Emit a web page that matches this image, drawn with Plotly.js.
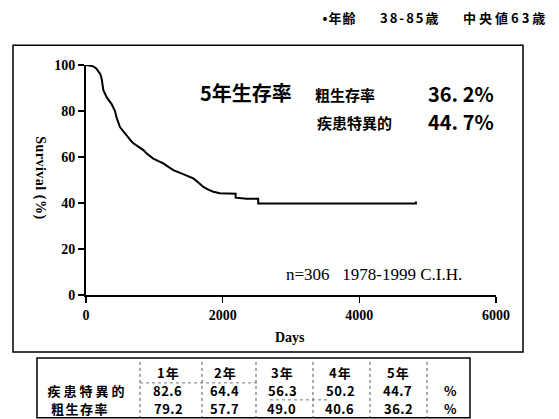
<!DOCTYPE html>
<html><head><meta charset="utf-8">
<script src="https://cdn.plot.ly/plotly-3.0.1.min.js"></script>
<style>body{margin:0;background:#fff}#c{width:559px;height:419px}</style>
</head><body><div id="c"></div>
<script>
// Kaplan-Meier curve (disease-specific survival)
const days = [0,60,107,150,180,210,229,254,302,375,424,449,497,550,595,650,693,740,790,840,888,940,985,1060,1131,1200,1278,1350,1424,1500,1570,1640,1717,1790,1863,1960,2190,2190,2350,2520,2520,3000,3500,4000,4500,4828,4828];
const survival = [100,99.8,99.4,98.5,97.4,96,94,89,86,83,80,77,73,71,69,67.3,66,65,64.2,63,61.5,60.3,59.3,58.2,57.2,55.8,54.3,53.4,52.5,51.6,50.7,49,47,45.8,44.9,44.2,44.0,42.3,41.8,41.8,39.8,39.8,39.8,39.8,39.8,39.8,40.6];
const xTicks = [0,2000,4000,6000];
const yTicks = [0,20,40,60,80,100];
// table
const colHeads = ['1年','2年','3年','4年','5年'];
const rowLabels = ['疾患特異的','粗生存率'];
const diseaseSpecific = ['82.6','64.4','56.3','50.2','44.7'];
const crude = ['79.2','57.7','49.0','40.6','36.2'];
const unitLabel = '%';
// texts
const headerTexts = ['•年齢','38-85歳','中央値63歳'];
const fiveYearTitle = '5年生存率';
const crudeLabel = '粗生存率', crudeValue = '36. 2%';
const dsLabel = '疾患特異的', dsValue = '44. 7%';
const cohortText = 'n=306   1978-1999 C.I.H.';

const L=86, R=496, T=64.7, B=295;
const px = x => (x-L)/(R-L);
const py = y => (B-y)/(B-T);
const serif = 'Liberation Serif, Times New Roman, serif';
const jp = 'Noto Sans CJK JP, sans-serif';

const ann = [];
let css = '';
function A(text,x,y,size,opts,spacing){
  if(spacing) css += '.annotation[data-index="'+ann.length+'"] text{letter-spacing:'+spacing+'px}\n';
  ann.push(Object.assign({text:text,x:px(x),y:py(y),xref:'paper',yref:'paper',showarrow:false,borderpad:0,font:{family:jp,size:size,color:'#000',weight:700},xanchor:'center',yanchor:'middle'},opts||{}));
}
A(headerTexts[0],339,17,13,null,1);
A(headerTexts[1],410,17,13,null,2);
A(headerTexts[2],505,17,13,null,3);
A(fiveYearTitle,246,92,20,{font:{family:jp,size:20,color:'#000',weight:700}});
A(crudeLabel,345,94,15);
A(crudeValue,495,93,20,{xanchor:'right',font:{family:jp,size:20,color:'#000',weight:700}});
A(dsLabel,354,122,15);
A(dsValue,495,121,20,{xanchor:'right',font:{family:jp,size:20,color:'#000',weight:700}});
A(cohortText,374,274,17,{font:{family:serif,size:17,color:'#000'}});
A('Survival (%)',40,178,14,{textangle:90,font:{family:serif,size:14,color:'#000',weight:700}},0.5);
A('Days',290,338,14,{font:{family:serif,size:14,color:'#000',weight:700}});
// table text
const colX=[168,225,282,340,398,450];
const rowY=[373,391,409];
colHeads.forEach((h,i)=>A(h,colX[i],rowY[0],13,null,1));
A(rowLabels[0],87,rowY[1],13,null,3);
A(rowLabels[1],80,rowY[2],13,null,1.5);
diseaseSpecific.forEach((v,i)=>A(v,colX[i],rowY[1],13,null,0.5));
crude.forEach((v,i)=>A(v,colX[i],rowY[2],13,null,0.5));
A(unitLabel,colX[5],rowY[1],13);
A(unitLabel,colX[5],rowY[2],13);
const st=document.createElement('style'); st.textContent=css; document.head.appendChild(st);

const shapes=[];
function rect(x0,y0,x1,y1,w){shapes.push({type:'rect',xref:'paper',yref:'paper',x0:px(x0),x1:px(x1),y0:py(y0),y1:py(y1),line:{color:'#000',width:w}});}
function line(x0,y0,x1,y1,w,dash,col){shapes.push({type:'line',xref:'paper',yref:'paper',x0:px(x0),x1:px(x1),y0:py(y0),y1:py(y1),line:{color:col||'#000',width:w,dash:dash||'solid'}});}
rect(13,45,523,352,1.5);
rect(37,358,470,418,1.5);
[140,202,256,313,370,427].forEach(x=>line(x,362,x,418,1,'dot','#555'));
line(140,383,260,383,1,'dot','#777');
line(270,400,330,400,1,'dot','#777');

Plotly.newPlot('c',[{x:days,y:survival,type:'scatter',mode:'lines',line:{color:'#000',width:2},hoverinfo:'skip'}],{
  width:559,height:419,margin:{l:L,r:559-R,t:T,b:419-B},
  paper_bgcolor:'#fff',plot_bgcolor:'#fff',showlegend:false,
  xaxis:{range:[0,6000],tickvals:xTicks,ticktext:xTicks.map(String),showgrid:false,zeroline:false,showline:true,linecolor:'#000',linewidth:2,ticks:'outside',ticklen:6,tickwidth:1.5,tickcolor:'#000',tickfont:{family:serif,size:14,color:'#000',weight:700}},
  yaxis:{range:[0,100],tickvals:yTicks,ticktext:yTicks.map(String),showgrid:false,zeroline:false,showline:true,linecolor:'#000',linewidth:2,ticks:'outside',ticklen:6,tickwidth:1.5,tickcolor:'#000',tickfont:{family:serif,size:14,color:'#000',weight:700}},
  annotations:ann,shapes:shapes
},{staticPlot:true});
</script></body></html>
